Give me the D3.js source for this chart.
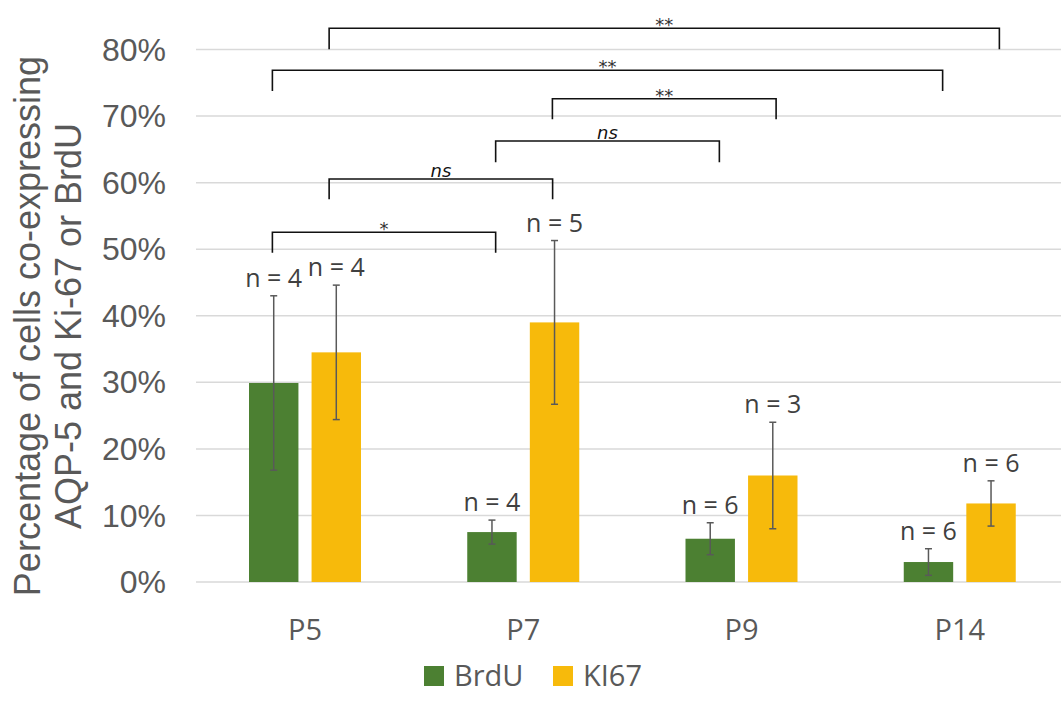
<!DOCTYPE html>
<html lang="en">
<head>
    <meta charset="UTF-8">
    <title>AQP-5 co-expression</title>
    <script src="https://cdn.jsdelivr.net/npm/d3@7"></script>
    <style>
        body { margin: 0; background: #fff; }
        svg { display: block; }
    </style>
</head>
<body>
    <div id="main"></div>
    <script>
        // data
        const ages = ["P5", "P7", "P9", "P14"];
        const series = ["BrdU", "KI67"];
        const brdu = [0.299, 0.075, 0.065, 0.030];
        const brduErr = [0.131, 0.018, 0.024, 0.020];
        const ki67 = [0.345, 0.390, 0.160, 0.118];
        const ki67Err = [0.101, 0.123, 0.080, 0.034];
        const nBrdu = [4, 4, 6, 6];
        const nKi67 = [4, 5, 3, 6];
        const yTicks = [0, 0.1, 0.2, 0.3, 0.4, 0.5, 0.6, 0.7, 0.8];

        // significance brackets: from / to in category units, top and leg end in %
        const bracketFrom = [0.11, -0.15, 1.133, 0.873, 0.11, -0.15];
        const bracketTo = [3.181, 2.921, 2.158, 1.898, 1.134, 0.873];
        const bracketTop = [0.8319, 0.7688, 0.7261, 0.6626, 0.6055, 0.5254];
        const bracketLeg = [0.8003, 0.7377, 0.6952, 0.6306, 0.5750, 0.4947];
        const bracketText = ["**", "**", "**", "ns", "ns", "*"];

        const colors = {"BrdU": "#4c8032", "KI67": "#f7ba0b"};

        const w = 1061;
        const h = 706;
        const pLeft = 196, pRight = 1069, pTop = 49.5, pBottom = 582;

        const svg = d3.select("#main").append("svg")
            .attr("width", w)
            .attr("height", h);

        const x = d3.scaleBand().domain(ages).range([pLeft, pRight]);
        const xSub = d3.scaleBand().domain(series).range([53, 165]).paddingInner(0.21);
        const xPos = d3.scaleLinear().domain([-0.5, 3.5]).range([pLeft, pRight]);
        const y = d3.scaleLinear().domain([0, 0.8]).range([pBottom, pTop]);

        // gridlines
        svg.append("g")
            .selectAll("line")
            .data(yTicks)
            .enter()
            .append("line")
            .attr("x1", pLeft)
            .attr("x2", w)
            .attr("y1", (d) => y(d))
            .attr("y2", (d) => y(d))
            .attr("stroke", "#d9d9d9")
            .attr("stroke-width", 1.5);

        // y axis labels
        const yAxis = d3.axisLeft(y)
            .tickValues(yTicks)
            .tickFormat(d3.format(".0%"))
            .tickSize(0)
            .tickPadding(0);
        const yg = svg.append("g")
            .attr("transform", "translate(166,0)")
            .call(yAxis);
        yg.select(".domain").remove();
        yg.selectAll("text")
            .attr("font-family", "Liberation Sans, Arial, sans-serif")
            .attr("font-size", 32)
            .attr("fill", "#595959")
            .attr("dy", "0.33em");

        // x axis labels
        const xAxis = d3.axisBottom(x).tickSize(0).tickPadding(0);
        const xg = svg.append("g")
            .attr("transform", "translate(0,640)")
            .call(xAxis);
        xg.select(".domain").remove();
        xg.selectAll("text")
            .attr("font-family", "Open Sans, sans-serif")
            .attr("font-size", 29)
            .attr("fill", "#595959")
            .attr("y", 0)
            .attr("dy", 0);

        // y title
        const title = svg.append("text")
            .attr("transform", "translate(0,326) rotate(-90)")
            .attr("text-anchor", "middle")
            .attr("font-family", "Liberation Sans, Arial, sans-serif")
            .attr("font-size", 36)
            .attr("fill", "#595959");
        title.append("tspan").attr("x", 0).attr("y", 40).text("Percentage of cells co-expressing");
        title.append("tspan").attr("x", 0).attr("y", 81).text("AQP-5 and Ki-67 or BrdU");

        // bars
        const rows = [];
        ages.forEach((a, i) => {
            rows.push({age: a, s: "BrdU", v: brdu[i], e: brduErr[i], n: nBrdu[i]});
            rows.push({age: a, s: "KI67", v: ki67[i], e: ki67Err[i], n: nKi67[i]});
        });
        const cx = (d) => x(d.age) + xSub(d.s) + xSub.bandwidth() / 2;

        svg.append("g")
            .selectAll("rect")
            .data(rows)
            .enter()
            .append("rect")
            .attr("x", (d) => x(d.age) + xSub(d.s))
            .attr("y", (d) => y(d.v))
            .attr("width", xSub.bandwidth())
            .attr("height", (d) => y(0) - y(d.v))
            .attr("fill", (d) => colors[d.s]);

        // error bars
        const eb = svg.append("g")
            .attr("stroke", "#595959")
            .attr("stroke-width", 1.5);
        eb.selectAll(".stem")
            .data(rows)
            .enter()
            .append("line")
            .attr("x1", cx).attr("x2", cx)
            .attr("y1", (d) => y(d.v + d.e))
            .attr("y2", (d) => y(d.v - d.e));
        eb.selectAll(".capT")
            .data(rows)
            .enter()
            .append("line")
            .attr("x1", (d) => cx(d) - 3.5).attr("x2", (d) => cx(d) + 3.5)
            .attr("y1", (d) => y(d.v + d.e))
            .attr("y2", (d) => y(d.v + d.e));
        eb.selectAll(".capB")
            .data(rows)
            .enter()
            .append("line")
            .attr("x1", (d) => cx(d) - 3.5).attr("x2", (d) => cx(d) + 3.5)
            .attr("y1", (d) => y(d.v - d.e))
            .attr("y2", (d) => y(d.v - d.e));

        // n labels
        svg.append("g")
            .selectAll("text")
            .data(rows)
            .enter()
            .append("text")
            .attr("x", cx)
            .attr("y", (d) => y(d.v + d.e) - 9)
            .attr("text-anchor", "middle")
            .attr("font-family", "Open Sans, sans-serif")
            .attr("font-size", 25)
            .attr("fill", "#404040")
            .text((d) => "n = " + d.n);

        // significance brackets
        const br = svg.append("g");
        bracketText.forEach((t, i) => {
            const x0 = xPos(bracketFrom[i]), x1 = xPos(bracketTo[i]);
            const yt = y(bracketTop[i]), yl = y(bracketLeg[i]);
            br.append("path")
                .attr("d", "M" + x0 + "," + yl + "V" + yt + "H" + x1 + "V" + yl)
                .attr("fill", "none")
                .attr("stroke", "#111")
                .attr("stroke-width", 1.6);
            const ns = t === "ns";
            br.append("text")
                .attr("x", (x0 + x1) / 2)
                .attr("y", ns ? yt - 2 : yt + 3)
                .attr("text-anchor", "middle")
                .attr("font-family", "DejaVu Sans, sans-serif")
                .attr("font-size", 18)
                .attr("font-style", ns ? "italic" : "normal")
                .attr("fill", ns ? "#111" : "#333")
                .text(t);
        });

        // legend
        const lg = svg.append("g").attr("transform", "translate(424,666)");
        const lx = [0, 129];
        series.forEach((s, i) => {
            lg.append("rect")
                .attr("x", lx[i]).attr("y", 0)
                .attr("width", 20).attr("height", 20)
                .attr("fill", colors[s]);
            lg.append("text")
                .attr("x", lx[i] + 30).attr("y", 20)
                .attr("font-family", "Open Sans, sans-serif")
                .attr("font-size", 29)
                .attr("fill", "#595959")
                .text(s);
        });
    </script>
</body>
</html>
